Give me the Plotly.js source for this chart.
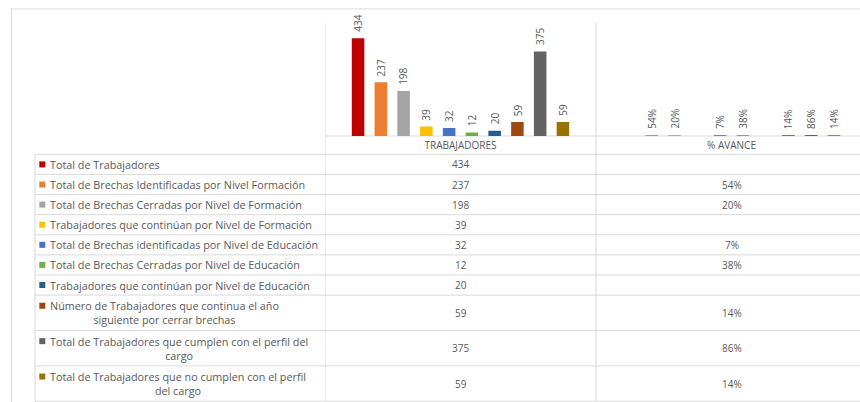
<!DOCTYPE html>
<html><head><meta charset="utf-8">
<script src="https://cdn.plot.ly/plotly-3.0.1.min.js"></script>
<style>html,body{margin:0;padding:0;background:#fff;}</style>
</head><body><div id="chart" style="width:860px;height:402px;"></div>
<script>
// ---- data ----
const categories = ['TRABAJADORES', '% AVANCE'];
const seriesNames = [
  'Total de Trabajadores',
  'Total de Brechas Identificadas por Nivel Formación',
  'Total de Brechas Cerradas por Nivel de Formación',
  'Trabajadores que continúan por Nivel de Formación',
  'Total de Brechas identificadas por Nivel de Educación',
  'Total de Brechas Cerradas por Nivel de Educación',
  'Trabajadores que continúan por Nivel de Educación',
  'Número de Trabajadores que continua el año<br>siguiente por cerrar brechas',
  'Total de Trabajadores que cumplen con el perfil del<br>cargo',
  'Total de Trabajadores que no cumplen con el perfil<br>del cargo'
];
const trabajadores = [434, 237, 198, 39, 32, 12, 20, 59, 375, 59];
const avance = [null, 0.54, 0.20, null, 0.07, 0.38, null, 0.14, 0.86, 0.14];
const colors = ['#C00000', '#ED7D31', '#A5A5A5', '#FFC000', '#4472C4',
                '#70AD47', '#255E91', '#9E480E', '#636363', '#997300'];

// ---- layout helpers ----
const plotL = 325, plotR = 860, plotT = 23, plotB = 135.7;
const px = x => (x - plotL) / (plotR - plotL);
const py = y => (plotB - y) / (plotB - plotT);
const FONT = '"Open Sans", Lato, sans-serif';
const TXT = '#595959';
const GRID = '#D9D9D9';
const BARGAP = 0.16, GROUPGAP = 0.52;

const pctText = v => v == null ? '' : Math.round(v * 100) + '%';
const N = seriesNames.length;

const traces = seriesNames.map((name, i) => ({
  type: 'bar',
  name: name,
  x: categories,
  y: [trabajadores[i], avance[i]],
  cliponaxis: false,
  marker: {color: colors[i], line: {color: colors[i], width: 1.6}},
  hoverinfo: 'skip'
}));

const shapes = [];
const annotations = [];

// data labels (rotated) above each bar, placed at the bar's data position
const slot = (1 - BARGAP) / N;
seriesNames.forEach((name, i) => {
  const off = -(1 - BARGAP) / 2 + (i + 0.5) * slot;
  const vals = [trabajadores[i], avance[i]];
  const txts = [String(trabajadores[i]), pctText(avance[i])];
  vals.forEach((v, c) => {
    if (v == null) return;
    annotations.push({xref: 'x', yref: 'y', x: c + off, y: v,
      xanchor: 'center', yanchor: 'bottom', yshift: 5, textangle: -90,
      showarrow: false, text: txts[c], font: {family: FONT, size: 10, color: TXT}});
  });
});

// ---- data table geometry ----
const tableTop = 154, tableLeft = 35, singleH = 20.05, doubleH = 35.3;
const line = (x0, y0, x1, y1) => shapes.push({
  type: 'line', xref: 'paper', yref: 'paper', layer: 'below',
  x0: x0, x1: x1, y0: y0, y1: y1, line: {color: GRID, width: 1}
});

// outer chart frame
line(px(11.5), py(9), px(860), py(9));
line(px(11.5), py(9), px(11.5), py(402));
// axis baseline / header top
line(px(325), 0, px(860), 0);
// header bottom
line(px(tableLeft), py(tableTop), px(860), py(tableTop));

let yTop = tableTop;
seriesNames.forEach((name, i) => {
  const lines = name.split('<br>').length;
  const h = lines > 1 ? doubleH : singleH;
  const yc = yTop + h / 2;
  const firstLineC = lines > 1 ? yc - 7 : yc;
  const yBot = yTop + h;
  line(px(tableLeft), py(yBot), px(860), py(yBot));
  // legend key
  shapes.push({type: 'rect', xref: 'paper', yref: 'paper',
    x0: px(39.3), x1: px(45.3), y0: py(firstLineC - 3), y1: py(firstLineC + 3),
    fillcolor: colors[i], line: {width: 0}});
  // label
  annotations.push({xref: 'paper', yref: 'paper', x: px(47.5), y: py(yc),
    xanchor: 'left', yanchor: 'middle', align: 'center', showarrow: false,
    text: name, font: {family: FONT, size: 10.8, color: TXT}});
  // values
  annotations.push({xref: 'x', yref: 'paper', x: 0, y: py(yc),
    xanchor: 'center', yanchor: 'middle', showarrow: false,
    text: String(trabajadores[i]), font: {family: FONT, size: 10, color: TXT}});
  if (avance[i] != null) {
    annotations.push({xref: 'x', yref: 'paper', x: 1, y: py(yc),
      xanchor: 'center', yanchor: 'middle', showarrow: false,
      text: pctText(avance[i]), font: {family: FONT, size: 10, color: TXT}});
  }
  yTop = yBot;
});
// vertical table lines
line(px(tableLeft), py(tableTop), px(tableLeft), py(yTop));
shapes.push({type: 'line', xref: 'x', yref: 'paper', layer: 'below', x0: -0.5, x1: -0.5,
  y0: 1, y1: py(yTop), line: {color: GRID, width: 1}});
shapes.push({type: 'line', xref: 'x', yref: 'paper', layer: 'below', x0: 0.5, x1: 0.5,
  y0: 1, y1: py(yTop), line: {color: GRID, width: 1}});

const layout = {
  width: 860, height: 402,
  margin: {l: plotL, r: 860 - plotR, t: plotT, b: 402 - plotB, pad: 0},
  paper_bgcolor: '#fff', plot_bgcolor: 'rgba(0,0,0,0)',
  showlegend: false,
  barmode: 'group', bargap: BARGAP, bargroupgap: GROUPGAP,
  font: {family: FONT, size: 10, color: TXT},
  xaxis: {type: 'category', range: [-0.5, 1.5 - 7 / 271], showgrid: false,
    zeroline: false, showline: false, ticks: '', fixedrange: true,
    ticklabelstandoff: 2,
    tickfont: {family: FONT, size: 10, color: TXT}},
  yaxis: {range: [0, 506], visible: false, fixedrange: true},
  shapes: shapes,
  annotations: annotations
};

Plotly.newPlot('chart', traces, layout, {displayModeBar: false, staticPlot: true});
</script></body></html>
